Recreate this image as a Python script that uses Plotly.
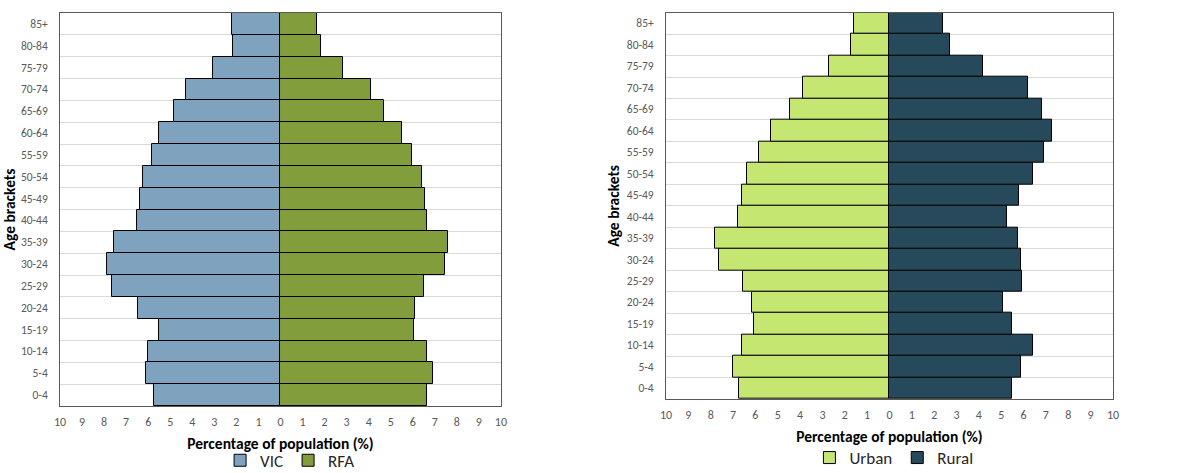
import plotly.graph_objects as go

age_brackets = ["0-4", "5-4", "10-14", "15-19", "20-24", "25-29", "30-24", "35-39",
                "40-44", "45-49", "50-54", "55-59", "60-64", "65-69", "70-74",
                "75-79", "80-84", "85+"]

vic = [5.75, 6.09, 6.0, 5.51, 6.48, 7.63, 7.88, 7.57, 6.52, 6.36, 6.22, 5.84,
       5.51, 4.83, 4.3, 3.06, 2.15, 2.2]
rfa = [6.64, 6.93, 6.64, 6.05, 6.1, 6.52, 7.46, 7.6, 6.64, 6.54, 6.4, 5.98,
       5.52, 4.69, 4.1, 2.85, 1.84, 1.67]

urban = [6.75, 7.02, 6.62, 6.07, 6.17, 6.57, 7.62, 7.81, 6.77, 6.6, 6.38, 5.86,
         5.29, 4.44, 3.86, 2.7, 1.72, 1.59]
rural = [5.46, 5.88, 6.44, 5.5, 5.1, 5.92, 5.87, 5.74, 5.28, 5.8, 6.41, 6.93,
         7.29, 6.82, 6.19, 4.17, 2.7, 2.41]

tick_values = list(range(-10, 11))
tick_text = [str(abs(v)) for v in tick_values]

FONT = "Carlito, Lato"
TICK_COLOR = "#595959"

fig = go.Figure()

def add_bar(vals, name, color, xa, ya, legend, negative):
    fig.add_trace(go.Bar(
        y=age_brackets,
        x=[-v for v in vals] if negative else vals,
        orientation="h",
        name=name,
        marker=dict(color=color, line=dict(color="#000000", width=1)),
        xaxis=xa, yaxis=ya, legend=legend,
        hovertemplate="%{y}: %{customdata}%<extra>" + name + "</extra>",
        customdata=vals,
    ))

add_bar(vic, "VIC", "#7fa3bf", "x", "y", "legend", True)
add_bar(rfa, "RFA", "#829e3c", "x", "y", "legend", False)
add_bar(urban, "Urban", "#c5e670", "x2", "y2", "legend2", True)
add_bar(rural, "Rural", "#264a5b", "x2", "y2", "legend2", False)

def xaxis_cfg(domain, anchor):
    return dict(
        domain=domain, anchor=anchor, range=[-10, 10],
        tickmode="array", tickvals=tick_values, ticktext=tick_text,
        tickfont=dict(family=FONT, size=12, color=TICK_COLOR),
        showgrid=False, zeroline=False,
        showline=True, linecolor="#595959", linewidth=1, mirror=True,
        ticks="", automargin=False, ticklabelstandoff=5,
        title=dict(text="<b>Percentage of population (%)</b>",
                   font=dict(family=FONT, size=15.5, color="#000000"), standoff=9),
        fixedrange=True,
    )

def yaxis_cfg(domain, anchor):
    return dict(
        domain=domain, anchor=anchor, type="category",
        categoryorder="array", categoryarray=age_brackets,
        tickfont=dict(family=FONT, size=11.5, color=TICK_COLOR),
        showgrid=True, gridcolor="#d9d9d9", gridwidth=1,
        tickson="boundaries", ticks="",
        showline=True, linecolor="#595959", linewidth=1, mirror=True,
        automargin=False,
        title=dict(text="<b>Age brackets</b>",
                   font=dict(family=FONT, size=15.5, color="#000000"), standoff=3),
        ticklabelstandoff=9,
        fixedrange=True,
    )

LEGEND_COMMON = dict(orientation="h", xanchor="center", yanchor="middle",
                     font=dict(family=FONT, size=17, color="#262626"),
                     itemwidth=30, tracegroupgap=0, bgcolor="rgba(0,0,0,0)",
                     borderwidth=0)

fig.update_layout(
    width=1184, height=473,
    margin=dict(l=0, r=0, t=0, b=0, autoexpand=False),
    paper_bgcolor="white", plot_bgcolor="white",
    barmode="relative", bargap=0,
    font=dict(family=FONT),
    xaxis=xaxis_cfg([0.0507, 0.4231], "y"),
    yaxis=yaxis_cfg([0.1416, 0.9725], "x"),
    xaxis2=xaxis_cfg([0.5625, 0.9400], "y2"),
    yaxis2=yaxis_cfg([0.1564, 0.9732], "x2"),
    legend=dict(LEGEND_COMMON, x=0.245, y=0.026),
    legend2=dict(LEGEND_COMMON, x=0.755, y=0.0317),
    showlegend=True,
)

fig.write_html("out.html")
